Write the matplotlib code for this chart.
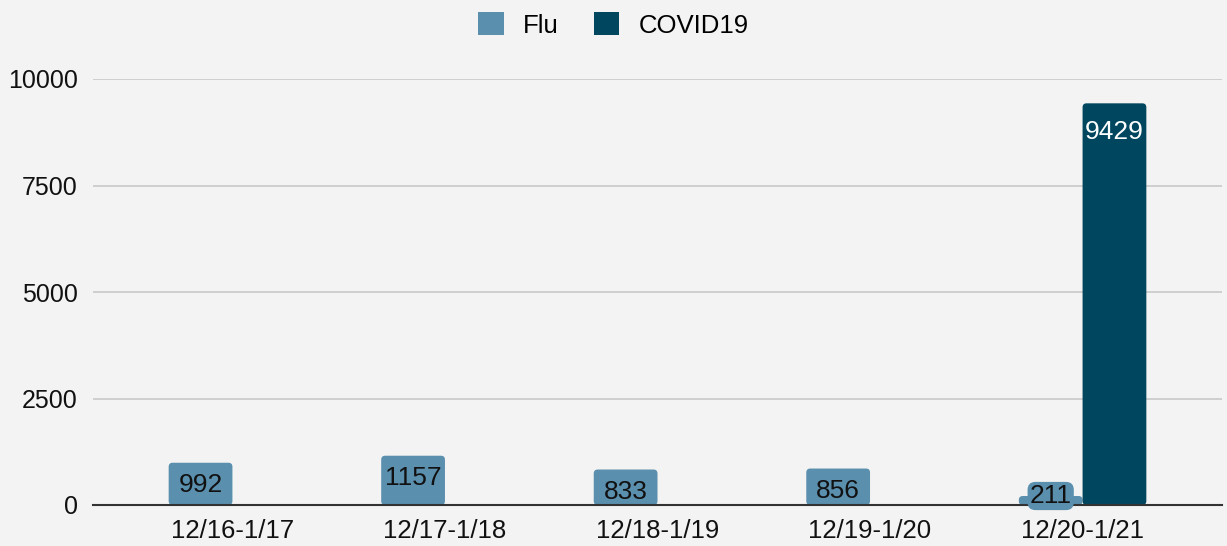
import matplotlib.pyplot as plt
from matplotlib.patches import FancyBboxPatch, Patch
import numpy as np

# ---------- DATA ----------
seasons = ["12/16-1/17", "12/17-1/18", "12/18-1/19", "12/19-1/20", "12/20-1/21"]
flu = [992, 1157, 833, 856, 211]
covid = [0, 0, 0, 0, 9429]
# --------------------------

BG = "#f3f3f3"
FLU_C = "#5a8fae"
COVID_C = "#00465f"

plt.rcParams["font.family"] = ["Liberation Sans", "DejaVu Sans"]

fig = plt.figure(figsize=(12.27, 5.46), dpi=100, facecolor=BG)
ax = fig.add_axes([93 / 1227, 41 / 546, (1222 - 93) / 1227, (505 - 79) / 546])
ax.set_facecolor(BG)

ax.set_xlim(-0.656, 4.656)
ax.set_ylim(0, 10000)

x = np.arange(len(seasons))
w = 0.30
b1 = ax.bar(x - w / 2, flu, w, color=FLU_C, zorder=3)
b2 = ax.bar(x + w / 2, covid, w, color=COVID_C, zorder=3)

# swap plain bars for ones with slightly rounded corners
x_per_px = (4.656 + 0.656) / (1222 - 93)
y_per_px = 10000 / (505 - 79)
for rect in list(b1) + list(b2):
    if rect.get_height() <= 0:
        rect.remove()
        continue
    fb = FancyBboxPatch((rect.get_x(), rect.get_y()), rect.get_width(), rect.get_height(),
                        boxstyle=f"round,pad=0,rounding_size={4 * x_per_px}",
                        mutation_aspect=y_per_px / x_per_px,
                        facecolor=rect.get_facecolor(), edgecolor="none", zorder=3)
    rect.remove()
    ax.add_patch(fb)

# value labels inside bar tops (short bars get a label with a bar-coloured box)
for xi, v in zip(x - w / 2, flu):
    if v < 500:
        ax.text(xi, v, str(v), ha="center", va="center", fontsize=19, color="#111111", zorder=5,
                bbox=dict(boxstyle="round,pad=0.08,rounding_size=0.3", fc=FLU_C, ec="none"))
    else:
        ax.annotate(str(v), (xi, v), xytext=(0, -16), textcoords="offset points",
                    ha="center", va="center", fontsize=19, color="#111111", zorder=5)
for xi, v in zip(x + w / 2, covid):
    if v == 0:
        continue
    ax.annotate(str(v), (xi, v), xytext=(0, -21), textcoords="offset points",
                ha="center", va="center", fontsize=19, color="white", zorder=5)

ax.set_yticks([0, 2500, 5000, 7500, 10000])
ax.set_xticks(x)
ax.set_xticklabels(seasons)
ax.tick_params(axis="both", length=0, labelsize=18.5, colors="#111111")
ax.tick_params(axis="y", labelsize=18, pad=11)
ax.tick_params(axis="x", pad=10)

ax.grid(axis="y", color="#c8c8c8", linewidth=1.2, zorder=0)
for s in ["top", "right", "left"]:
    ax.spines[s].set_visible(False)
ax.spines["bottom"].set_color("#333333")
ax.spines["bottom"].set_linewidth(1.5)
ax.spines["bottom"].set_zorder(4)

handles = [Patch(facecolor=FLU_C, label="Flu"), Patch(facecolor=COVID_C, label="COVID19")]
fig.legend(handles=handles, loc="upper center", bbox_to_anchor=(0.5, 1.02), ncol=2, frameon=False,
           fontsize=18.5, handlelength=1.0, handleheight=1.0, columnspacing=1.35,
           handletextpad=0.75)

fig.savefig("out.png", dpi=100, facecolor=BG)
